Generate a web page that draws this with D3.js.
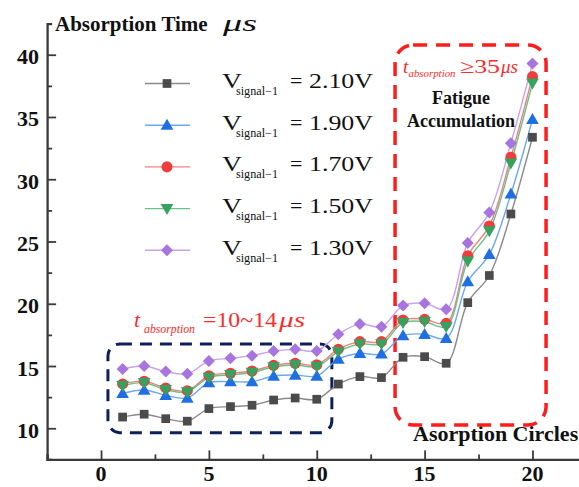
<!DOCTYPE html>
<html>
<head>
<meta charset="utf-8">
<script src="https://cdn.jsdelivr.net/npm/d3@7"></script>
<style>
  body { margin: 0; background: #fff; }
  svg { display: block; font-family: "Liberation Serif", "Times New Roman", serif; }
</style>
</head>
<body>
<div id="chart"></div>
<script>
// data
const circles = d3.range(1, 21);
const v210 = [10.9, 11.13, 10.77, 10.57, 11.58, 11.74, 11.85, 12.27, 12.43, 12.33, 13.55, 14.15, 14.07, 15.7, 15.75, 15.22, 20.09, 22.27, 27.21, 33.37];
const v190 = [12.8, 13.07, 12.65, 12.43, 13.66, 13.74, 13.74, 14.2, 14.28, 14.2, 15.55, 16.02, 15.97, 17.44, 17.55, 17.23, 21.78, 23.96, 28.82, 34.82];
const v170 = [13.56, 13.78, 13.24, 13.02, 14.22, 14.42, 14.6, 15.05, 15.22, 15.1, 16.35, 16.96, 16.96, 18.7, 18.75, 18.43, 23.85, 26.25, 31.77, 38.24];
const v150 = [13.42, 13.66, 13.1, 12.92, 14.08, 14.3, 14.48, 14.92, 15.08, 14.96, 16.15, 16.77, 16.77, 18.48, 18.56, 18.16, 23.42, 25.85, 31.29, 37.71];
const v130 = [14.77, 15.0, 14.55, 14.38, 15.4, 15.62, 15.83, 16.2, 16.34, 16.2, 17.55, 18.38, 18.16, 19.85, 20.04, 19.56, 24.88, 27.32, 32.9, 39.3];
const seriesNames = ["2.10V", "1.90V", "1.70V", "1.50V", "1.30V"];
const xTicks = [0, 5, 10, 15, 20];
const yTicks = [10, 15, 20, 25, 30, 35, 40];

const width = 579, height = 487;

const x = d3.scaleLinear().domain([-2.5, 22.5]).range([47.1, 586.4]);
const y = d3.scaleLinear().domain([7.5, 42.5]).range([459.4, 23.6]);

const series = [
  { name: seriesNames[0], values: v210, fill: '#4b4b4b', line: '#8a8a8a', shape: 'square' },
  { name: seriesNames[1], values: v190, fill: '#1f6fe3', line: '#6ea8ef', shape: 'up' },
  { name: seriesNames[2], values: v170, fill: '#f03c3c', line: '#f08080', shape: 'circle' },
  { name: seriesNames[3], values: v150, fill: '#34a35f', line: '#68c38a', shape: 'down' },
  { name: seriesNames[4], values: v130, fill: '#a874e0', line: '#c7a2f0', shape: 'diamond' },
];

function marker(sel, shape, fill) {
  if (shape === 'square') {
    sel.append('path').attr('d', d3.symbol(d3.symbolSquare, 76)()).attr('fill', fill);
  } else if (shape === 'diamond') {
    sel.append('path').attr('d', d3.symbol(d3.symbolSquare, 72)()).attr('transform', 'rotate(45)').attr('fill', fill);
  } else if (shape === 'circle') {
    sel.append('path').attr('d', d3.symbol(d3.symbolCircle, 96)()).attr('fill', fill);
  } else if (shape === 'up') {
    sel.append('path').attr('d', d3.symbol(d3.symbolTriangle, 70)()).attr('transform', 'translate(0,1)').attr('fill', fill);
  } else {
    sel.append('path').attr('d', d3.symbol(d3.symbolTriangle, 70)()).attr('transform', 'translate(0,-1) rotate(180)').attr('fill', fill);
  }
}

const svg = d3.select('#chart').append('svg')
  .attr('width', width).attr('height', height);

// axes
const axisColor = '#3a3a3a';
const xAxis = svg.append('g').attr('transform', `translate(0,${y(7.5)})`)
  .call(d3.axisBottom(x).tickValues(d3.range(-2.5, 23, 2.5)).tickSize(-5).tickFormat(''));
xAxis.selectAll('.tick line').attr('stroke-width', 1.8)
  .filter(d => d % 5 === 0).attr('y2', -9);
xAxis.select('.domain').attr('stroke-width', 2.3);
xAxis.selectAll('line, path').attr('stroke', axisColor);

const yAxis = svg.append('g').attr('transform', `translate(${x(-2.5)},0)`)
  .call(d3.axisLeft(y).tickValues(d3.range(7.5, 43, 2.5)).tickSize(-5).tickFormat(''));
yAxis.selectAll('.tick line').attr('stroke-width', 1.8)
  .filter(d => d % 5 === 0).attr('x2', 9);
yAxis.select('.domain').attr('stroke-width', 2.3);
yAxis.selectAll('line, path').attr('stroke', axisColor);

svg.append('g').selectAll('text').data(xTicks).join('text')
  .attr('x', d => x(d)).attr('y', 481)
  .attr('text-anchor', 'middle').attr('font-size', 22).attr('font-weight', 'bold')
  .attr('fill', '#111').text(d => d);

svg.append('g').selectAll('text').data(yTicks).join('text')
  .attr('x', 39).attr('y', d => y(d) + 9.5)
  .attr('text-anchor', 'end').attr('font-size', 22).attr('font-weight', 'bold')
  .attr('fill', '#111').text(d => d);

// titles
const title = svg.append('text').attr('x', 55).attr('y', 31).attr('fill', '#111');
title.append('tspan').attr('font-size', 21).attr('font-weight', 'bold').text('Absorption Time ');
svg.append('text').attr('x', 223).attr('y', 31).attr('font-size', 24).attr('font-style', 'italic')
  .attr('textLength', 34).attr('lengthAdjust', 'spacingAndGlyphs').attr('fill', '#111').text('μs');

svg.append('text').attr('x', 413).attr('y', 441).attr('font-size', 22).attr('font-weight', 'bold')
  .attr('fill', '#111').text('Asorption Circles');

// annotation boxes
const navyBox = { x0: 0.32, x1: 10.7, y0: 9.65, y1: 16.77 };
const redBox = { x0: 13.63, x1: 20.63, y0: 10.27, y1: 40.78 };

svg.append('rect')
  .attr('x', x(navyBox.x0)).attr('y', y(navyBox.y1))
  .attr('width', x(navyBox.x1) - x(navyBox.x0)).attr('height', y(navyBox.y0) - y(navyBox.y1))
  .attr('rx', 12).attr('fill', 'none').attr('stroke', '#0e1f5b')
  .attr('stroke-width', 3).attr('stroke-dasharray', '12 8');

svg.append('rect')
  .attr('x', x(redBox.x0)).attr('y', y(redBox.y1))
  .attr('width', x(redBox.x1) - x(redBox.x0)).attr('height', y(redBox.y0) - y(redBox.y1))
  .attr('rx', 18).attr('fill', 'none').attr('stroke', '#ff1c1c')
  .attr('stroke-width', 3.5).attr('stroke-dasharray', '14 9');

// series
const line = d3.line()
  .x((d, i) => x(circles[i]))
  .y(d => y(d))
  .curve(d3.curveCatmullRom.alpha(0.5));

const plot = svg.append('g');
series.forEach(s => {
  plot.append('path').datum(s.values)
    .attr('d', line).attr('fill', 'none')
    .attr('stroke', s.line).attr('stroke-width', 1.4);
});
series.forEach(s => {
  plot.append('g').selectAll('g').data(s.values).join('g')
    .attr('transform', (d, i) => `translate(${x(circles[i])},${y(d)})`)
    .each(function () { marker(d3.select(this), s.shape, s.fill); });
});

// legend
const legend = svg.append('g');
series.forEach((s, i) => {
  const cy = 83.5 + i * 41.7;
  const g = legend.append('g');
  g.append('line').attr('x1', 145).attr('x2', 190).attr('y1', cy).attr('y2', cy)
    .attr('stroke', s.line).attr('stroke-width', 1.4);
  marker(g.append('g').attr('transform', `translate(167,${cy})`), s.shape, s.fill);
  g.append('text').attr('x', 222).attr('y', cy + 4.5).attr('font-size', 22)
    .attr('textLength', 20).attr('lengthAdjust', 'spacingAndGlyphs').attr('fill', '#111').text('V');
  g.append('text').attr('x', 236).attr('y', cy + 11.5).attr('font-size', 12)
    .attr('textLength', 42).attr('lengthAdjust', 'spacingAndGlyphs').attr('fill', '#111').text('signal−1');
  g.append('text').attr('x', 290).attr('y', cy + 4.5).attr('font-size', 22)
    .attr('fill', '#111').text('=');
  g.append('text').attr('x', 309).attr('y', cy + 4.5).attr('font-size', 22)
    .attr('textLength', 64).attr('lengthAdjust', 'spacingAndGlyphs').attr('fill', '#111').text(s.name);
});

// red annotations
const red = '#ff2a2a';
svg.append('text').attr('x', 134).attr('y', 327).attr('font-size', 22).attr('font-style', 'italic')
  .attr('fill', red).text('t');
svg.append('text').attr('x', 144).attr('y', 333).attr('font-size', 13).attr('font-style', 'italic')
  .attr('textLength', 51).attr('lengthAdjust', 'spacingAndGlyphs').attr('fill', red).text('absorption');
svg.append('text').attr('x', 203).attr('y', 327).attr('font-size', 22)
  .attr('textLength', 74).attr('lengthAdjust', 'spacingAndGlyphs').attr('fill', red).text('=10~14');
svg.append('text').attr('x', 279).attr('y', 327).attr('font-size', 22).attr('font-style', 'italic')
  .attr('textLength', 26).attr('lengthAdjust', 'spacingAndGlyphs').attr('fill', red).text('μs');

svg.append('text').attr('x', 403).attr('y', 73).attr('font-size', 19).attr('font-style', 'italic')
  .attr('fill', red).text('t');
svg.append('text').attr('x', 408.5).attr('y', 77).attr('font-size', 11).attr('font-style', 'italic')
  .attr('textLength', 47).attr('lengthAdjust', 'spacingAndGlyphs').attr('fill', red).text('absorption');
svg.append('text').attr('x', 460).attr('y', 73).attr('font-size', 19)
  .attr('textLength', 40).attr('lengthAdjust', 'spacingAndGlyphs').attr('fill', red).text('≥35');
svg.append('text').attr('x', 501).attr('y', 73).attr('font-size', 19).attr('font-style', 'italic')
  .attr('fill', red).text('μs');

svg.append('text').attr('x', 461).attr('y', 104).attr('text-anchor', 'middle')
  .attr('font-size', 18).attr('font-weight', 'bold').attr('fill', '#111').text('Fatigue');
svg.append('text').attr('x', 461).attr('y', 127).attr('text-anchor', 'middle')
  .attr('font-size', 18).attr('font-weight', 'bold').attr('fill', '#111').text('Accumulation');
</script>
</body>
</html>
